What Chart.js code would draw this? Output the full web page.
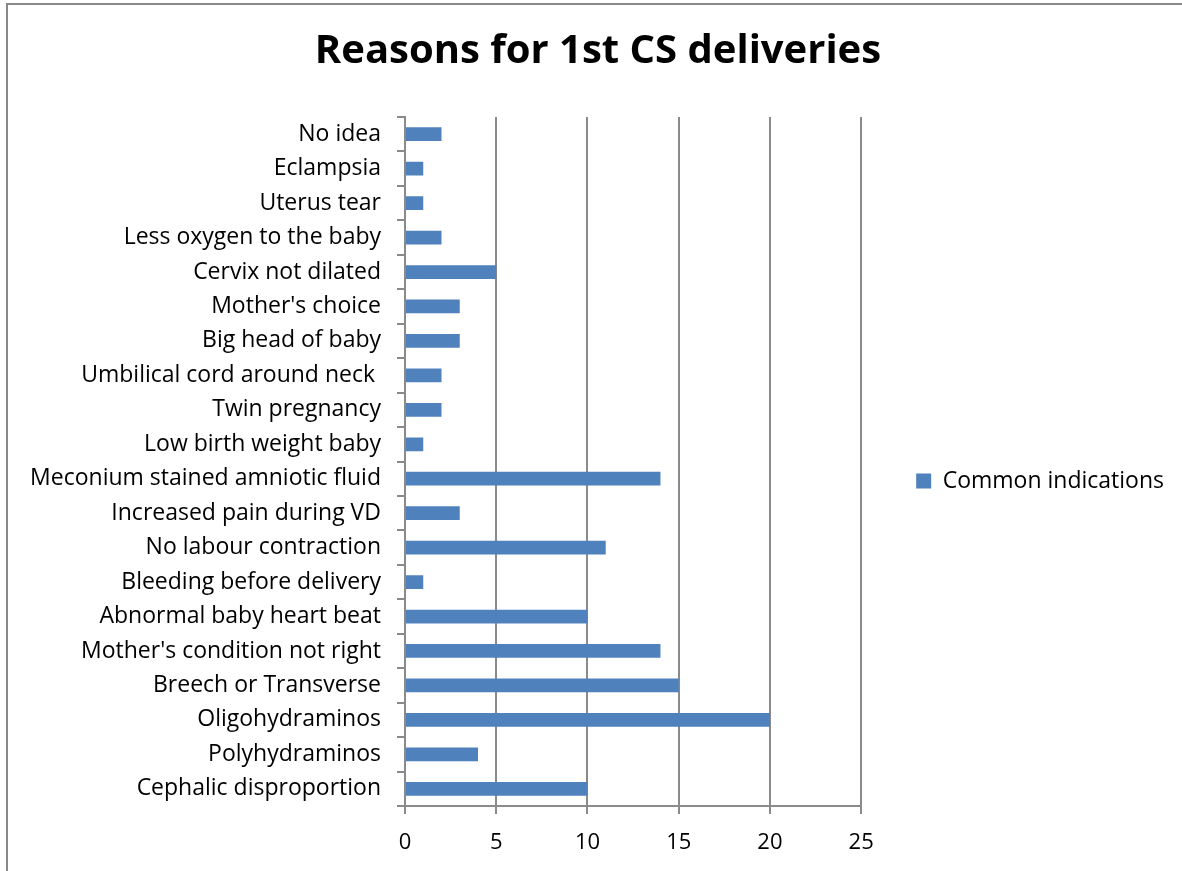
<!DOCTYPE html>
<html>
<head>
<meta charset="utf-8">
<script src="https://cdn.jsdelivr.net/npm/chart.js@4.4.1/dist/chart.umd.min.js"></script>
<style>
    body { margin: 0; background: #fff; }
    #wrap { position: relative; width: 1182px; height: 871px; }
    #frame {
        position: absolute; left: 6px; top: 3px; right: 0; bottom: 0;
        border-left: 2px solid #888; border-top: 2px solid #888;
        pointer-events: none;
    }
</style>
</head>
<body>
<div id="wrap">
    <canvas id="barChart" width="1182" height="871"></canvas>
    <div id="frame"></div>
</div>
<script>
const reasons = [
    'No idea',
    'Eclampsia',
    'Uterus tear',
    'Less oxygen to the baby',
    'Cervix not dilated',
    "Mother's choice",
    'Big head of baby',
    'Umbilical cord around neck ',
    'Twin pregnancy',
    'Low birth weight baby',
    'Meconium stained amniotic fluid',
    'Increased pain during VD',
    'No labour contraction',
    'Bleeding before delivery',
    'Abnormal baby heart beat',
    "Mother's condition not right",
    'Breech or Transverse',
    'Oligohydraminos',
    'Polyhydraminos',
    'Cephalic disproportion'
];
const counts = [2, 1, 1, 2, 5, 3, 3, 2, 2, 1, 14, 3, 11, 1, 10, 14, 15, 20, 4, 10];
const xTicks = [0, 5, 10, 15, 20, 25];

const fontFamily = '"Open Sans", Lato, sans-serif';
const gridColor = '#8a8a8a';

const barChart = () => {
    var ctx = document.getElementById('barChart').getContext('2d');
    var myChart = new Chart(ctx, {
        type: 'bar',
        data: {
            labels: reasons,
            datasets: [{
                label: 'Common indications',
                data: counts,
                backgroundColor: '#4f81bd',
                borderWidth: 0,
                barPercentage: 0.4,
                categoryPercentage: 1
            }]
        },
        options: {
            indexAxis: 'y',
            responsive: false,
            animation: false,
            layout: {
                padding: { left: 22, right: 8, top: 28, bottom: 0 }
            },
            scales: {
                x: {
                    min: xTicks[0],
                    max: xTicks[xTicks.length - 1],
                    afterBuildTicks: scale => {
                        scale.ticks = xTicks.map(v => ({ value: v }));
                    },
                    afterFit: scale => { scale.height = 65; },
                    grid: {
                        color: gridColor,
                        lineWidth: 2,
                        tickLength: 8,
                        tickColor: gridColor
                    },
                    border: { color: gridColor, width: 2 },
                    ticks: {
                        color: '#000',
                        padding: 16,
                        font: { family: fontFamily, size: 22 }
                    }
                },
                y: {
                    afterFit: scale => { scale.width = 383; },
                    grid: {
                        drawOnChartArea: false,
                        tickLength: 8,
                        lineWidth: 2,
                        color: gridColor
                    },
                    border: { color: gridColor, width: 2 },
                    ticks: {
                        color: '#000',
                        padding: 16,
                        autoSkip: false,
                        font: { family: fontFamily, size: 23 }
                    }
                }
            },
            plugins: {
                title: {
                    display: true,
                    text: 'Reasons for 1st CS deliveries',
                    color: '#000',
                    font: { family: fontFamily, size: 40, weight: 'bold' },
                    padding: { top: 0, bottom: 41 }
                },
                legend: {
                    display: true,
                    position: 'right',
                    maxWidth: 340,
                    // empty title only pushes the single item down a little
                    title: {
                        display: true,
                        text: '',
                        font: { size: 1 },
                        padding: { top: 62, bottom: 0 }
                    },
                    labels: {
                        color: '#000',
                        boxWidth: 15,
                        boxHeight: 15,
                        padding: 55,
                        font: { family: fontFamily, size: 23 }
                    }
                },
                tooltip: { enabled: false }
            }
        }
    });
};

barChart();
</script>
</body>
</html>
